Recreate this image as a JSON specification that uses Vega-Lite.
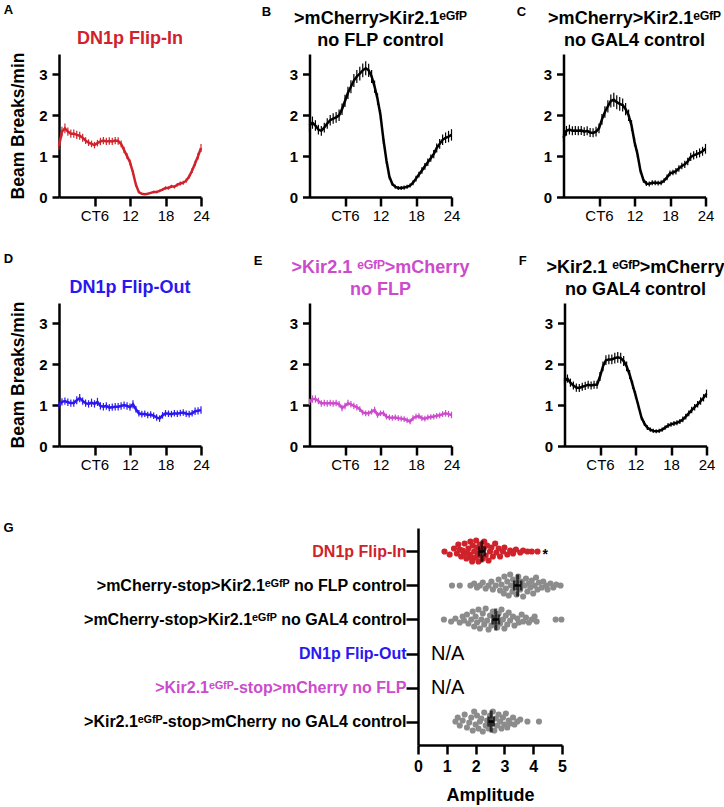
{
 "$schema": "https://vega.github.io/schema/vega-lite/v6.json",
 "background": "white",
 "padding": {"left": 2, "top": 4, "right": 2, "bottom": 2},
 "config": {
  "font": "Liberation Sans",
  "view": {"stroke": null},
  "axis": {"domainColor": "black", "tickColor": "black", "labelColor": "black", "titleColor": "black", "domainWidth": 2.5, "tickWidth": 2.5, "grid": false, "labelFlush": false, "labelOverlap": false, "labelFont": "Liberation Sans", "titleFont": "Liberation Sans"},
  "title": {"font": "Liberation Sans", "fontSize": 18, "fontWeight": "bold", "lineHeight": 22, "offset": 4, "color": "black"}
 },
 "datasets": {
  "A": [
   {"t":0,"m":1.25,"s":0.1},{"t":0.5,"m":1.6,"s":0.12},{"t":1,"m":1.68,"s":0.12},{"t":1.5,"m":1.6,"s":0.1},{"t":2,"m":1.55,"s":0.1},{"t":2.5,"m":1.55,"s":0.1},{"t":3,"m":1.52,"s":0.1},{"t":3.5,"m":1.5,"s":0.1},{"t":4,"m":1.45,"s":0.1},{"t":4.5,"m":1.38,"s":0.08},{"t":5,"m":1.33,"s":0.08},{"t":5.5,"m":1.3,"s":0.08},{"t":6,"m":1.27,"s":0.08},{"t":6.5,"m":1.32,"s":0.08},{"t":7,"m":1.36,"s":0.09},{"t":7.5,"m":1.38,"s":0.09},{"t":8,"m":1.36,"s":0.09},{"t":8.5,"m":1.37,"s":0.09},{"t":9,"m":1.36,"s":0.09},{"t":9.5,"m":1.38,"s":0.09},{"t":10,"m":1.37,"s":0.09},{"t":10.5,"m":1.3,"s":0.08},{"t":11,"m":1.15,"s":0.08},{"t":11.5,"m":1.0,"s":0.07},{"t":12,"m":0.85,"s":0.07},{"t":12.5,"m":0.6,"s":0.06},{"t":13,"m":0.3,"s":0.05},{"t":13.5,"m":0.12,"s":0.03},{"t":14,"m":0.08,"s":0.02},{"t":14.5,"m":0.07,"s":0.02},{"t":15,"m":0.08,"s":0.02},{"t":15.5,"m":0.1,"s":0.02},{"t":16,"m":0.12,"s":0.03},{"t":16.5,"m":0.12,"s":0.03},{"t":17,"m":0.15,"s":0.03},{"t":17.5,"m":0.18,"s":0.03},{"t":18,"m":0.22,"s":0.04},{"t":18.5,"m":0.22,"s":0.04},{"t":19,"m":0.26,"s":0.04},{"t":19.5,"m":0.25,"s":0.04},{"t":20,"m":0.3,"s":0.04},{"t":20.5,"m":0.33,"s":0.05},{"t":21,"m":0.35,"s":0.05},{"t":21.5,"m":0.4,"s":0.05},{"t":22,"m":0.5,"s":0.05},{"t":22.5,"m":0.65,"s":0.06},{"t":23,"m":0.82,"s":0.07},{"t":23.5,"m":1.0,"s":0.08},{"t":24,"m":1.2,"s":0.1}
  ],
  "B": [
   {"t":0,"m":1.75,"s":0.15},{"t":0.5,"m":1.82,"s":0.15},{"t":1,"m":1.75,"s":0.13},{"t":1.5,"m":1.65,"s":0.12},{"t":2,"m":1.62,"s":0.12},{"t":2.5,"m":1.7,"s":0.12},{"t":3,"m":1.8,"s":0.13},{"t":3.5,"m":1.88,"s":0.13},{"t":4,"m":1.92,"s":0.13},{"t":4.5,"m":1.95,"s":0.13},{"t":5,"m":2.0,"s":0.14},{"t":5.5,"m":2.15,"s":0.14},{"t":6,"m":2.35,"s":0.15},{"t":6.5,"m":2.55,"s":0.15},{"t":7,"m":2.7,"s":0.16},{"t":7.5,"m":2.85,"s":0.16},{"t":8,"m":2.95,"s":0.16},{"t":8.5,"m":3.02,"s":0.17},{"t":9,"m":3.1,"s":0.17},{"t":9.5,"m":3.15,"s":0.17},{"t":10,"m":3.1,"s":0.16},{"t":10.5,"m":2.95,"s":0.16},{"t":11,"m":2.7,"s":0.15},{"t":11.5,"m":2.4,"s":0.14},{"t":12,"m":2.0,"s":0.13},{"t":12.5,"m":1.4,"s":0.11},{"t":13,"m":0.9,"s":0.09},{"t":13.5,"m":0.5,"s":0.07},{"t":14,"m":0.32,"s":0.05},{"t":14.5,"m":0.25,"s":0.05},{"t":15,"m":0.22,"s":0.05},{"t":15.5,"m":0.22,"s":0.05},{"t":16,"m":0.23,"s":0.05},{"t":16.5,"m":0.25,"s":0.05},{"t":17,"m":0.28,"s":0.05},{"t":17.5,"m":0.35,"s":0.06},{"t":18,"m":0.45,"s":0.07},{"t":18.5,"m":0.55,"s":0.07},{"t":19,"m":0.65,"s":0.08},{"t":19.5,"m":0.75,"s":0.08},{"t":20,"m":0.85,"s":0.09},{"t":20.5,"m":0.95,"s":0.09},{"t":21,"m":1.05,"s":0.1},{"t":21.5,"m":1.2,"s":0.11},{"t":22,"m":1.3,"s":0.12},{"t":22.5,"m":1.4,"s":0.13},{"t":23,"m":1.45,"s":0.13},{"t":23.5,"m":1.48,"s":0.14},{"t":24,"m":1.52,"s":0.14}
  ],
  "C": [
   {"t":0,"m":1.45,"s":0.1},{"t":0.5,"m":1.62,"s":0.12},{"t":1,"m":1.65,"s":0.12},{"t":1.5,"m":1.62,"s":0.11},{"t":2,"m":1.63,"s":0.11},{"t":2.5,"m":1.62,"s":0.11},{"t":3,"m":1.63,"s":0.11},{"t":3.5,"m":1.6,"s":0.11},{"t":4,"m":1.62,"s":0.11},{"t":4.5,"m":1.58,"s":0.11},{"t":5,"m":1.57,"s":0.11},{"t":5.5,"m":1.6,"s":0.12},{"t":6,"m":1.68,"s":0.12},{"t":6.5,"m":1.9,"s":0.13},{"t":7,"m":2.08,"s":0.14},{"t":7.5,"m":2.22,"s":0.15},{"t":8,"m":2.35,"s":0.16},{"t":8.5,"m":2.38,"s":0.17},{"t":9,"m":2.32,"s":0.17},{"t":9.5,"m":2.28,"s":0.17},{"t":10,"m":2.25,"s":0.16},{"t":10.5,"m":2.15,"s":0.15},{"t":11,"m":2.0,"s":0.14},{"t":11.5,"m":1.75,"s":0.13},{"t":12,"m":1.35,"s":0.11},{"t":12.5,"m":1.05,"s":0.1},{"t":13,"m":0.65,"s":0.08},{"t":13.5,"m":0.42,"s":0.07},{"t":14,"m":0.33,"s":0.06},{"t":14.5,"m":0.32,"s":0.06},{"t":15,"m":0.35,"s":0.06},{"t":15.5,"m":0.35,"s":0.06},{"t":16,"m":0.34,"s":0.06},{"t":16.5,"m":0.35,"s":0.06},{"t":17,"m":0.4,"s":0.06},{"t":17.5,"m":0.48,"s":0.07},{"t":18,"m":0.58,"s":0.07},{"t":18.5,"m":0.6,"s":0.07},{"t":19,"m":0.63,"s":0.08},{"t":19.5,"m":0.7,"s":0.08},{"t":20,"m":0.76,"s":0.08},{"t":20.5,"m":0.8,"s":0.09},{"t":21,"m":0.87,"s":0.09},{"t":21.5,"m":0.98,"s":0.1},{"t":22,"m":1.02,"s":0.1},{"t":22.5,"m":1.05,"s":0.1},{"t":23,"m":1.08,"s":0.11},{"t":23.5,"m":1.12,"s":0.11},{"t":24,"m":1.18,"s":0.12}
  ],
  "D": [
   {"t":0,"m":1.0,"s":0.09},{"t":0.5,"m":1.08,"s":0.09},{"t":1,"m":1.1,"s":0.09},{"t":1.5,"m":1.07,"s":0.09},{"t":2,"m":1.05,"s":0.09},{"t":2.5,"m":1.05,"s":0.09},{"t":3,"m":1.12,"s":0.1},{"t":3.5,"m":1.17,"s":0.1},{"t":4,"m":1.1,"s":0.09},{"t":4.5,"m":1.05,"s":0.09},{"t":5,"m":1.03,"s":0.09},{"t":5.5,"m":1.06,"s":0.1},{"t":6,"m":1.03,"s":0.09},{"t":6.5,"m":1.08,"s":0.1},{"t":7,"m":0.98,"s":0.09},{"t":7.5,"m":0.96,"s":0.09},{"t":8,"m":0.98,"s":0.09},{"t":8.5,"m":0.94,"s":0.09},{"t":9,"m":0.95,"s":0.09},{"t":9.5,"m":0.96,"s":0.09},{"t":10,"m":0.96,"s":0.09},{"t":10.5,"m":0.98,"s":0.09},{"t":11,"m":1.0,"s":0.09},{"t":11.5,"m":0.98,"s":0.09},{"t":12,"m":0.95,"s":0.09},{"t":12.5,"m":1.02,"s":0.1},{"t":13,"m":0.9,"s":0.08},{"t":13.5,"m":0.8,"s":0.08},{"t":14,"m":0.78,"s":0.08},{"t":14.5,"m":0.79,"s":0.08},{"t":15,"m":0.76,"s":0.08},{"t":15.5,"m":0.77,"s":0.08},{"t":16,"m":0.74,"s":0.08},{"t":16.5,"m":0.7,"s":0.08},{"t":17,"m":0.67,"s":0.08},{"t":17.5,"m":0.75,"s":0.08},{"t":18,"m":0.8,"s":0.08},{"t":18.5,"m":0.79,"s":0.08},{"t":19,"m":0.78,"s":0.08},{"t":19.5,"m":0.8,"s":0.08},{"t":20,"m":0.79,"s":0.08},{"t":20.5,"m":0.81,"s":0.08},{"t":21,"m":0.82,"s":0.08},{"t":21.5,"m":0.79,"s":0.08},{"t":22,"m":0.78,"s":0.08},{"t":22.5,"m":0.8,"s":0.08},{"t":23,"m":0.85,"s":0.09},{"t":23.5,"m":0.86,"s":0.09},{"t":24,"m":0.88,"s":0.09}
  ],
  "E": [
   {"t":0,"m":1.08,"s":0.08},{"t":0.5,"m":1.15,"s":0.09},{"t":1,"m":1.15,"s":0.09},{"t":1.5,"m":1.1,"s":0.08},{"t":2,"m":1.04,"s":0.08},{"t":2.5,"m":1.05,"s":0.08},{"t":3,"m":1.04,"s":0.08},{"t":3.5,"m":1.05,"s":0.08},{"t":4,"m":1.04,"s":0.08},{"t":4.5,"m":1.05,"s":0.08},{"t":5,"m":1.02,"s":0.08},{"t":5.5,"m":0.93,"s":0.08},{"t":6,"m":0.98,"s":0.08},{"t":6.5,"m":1.05,"s":0.08},{"t":7,"m":1.02,"s":0.08},{"t":7.5,"m":0.98,"s":0.08},{"t":8,"m":0.95,"s":0.08},{"t":8.5,"m":0.9,"s":0.07},{"t":9,"m":0.82,"s":0.07},{"t":9.5,"m":0.8,"s":0.07},{"t":10,"m":0.8,"s":0.07},{"t":10.5,"m":0.84,"s":0.07},{"t":11,"m":0.88,"s":0.08},{"t":11.5,"m":0.76,"s":0.07},{"t":12,"m":0.8,"s":0.07},{"t":12.5,"m":0.8,"s":0.07},{"t":13,"m":0.72,"s":0.07},{"t":13.5,"m":0.7,"s":0.07},{"t":14,"m":0.69,"s":0.07},{"t":14.5,"m":0.7,"s":0.07},{"t":15,"m":0.68,"s":0.07},{"t":15.5,"m":0.67,"s":0.07},{"t":16,"m":0.66,"s":0.07},{"t":16.5,"m":0.63,"s":0.07},{"t":17,"m":0.6,"s":0.07},{"t":17.5,"m":0.68,"s":0.07},{"t":18,"m":0.72,"s":0.07},{"t":18.5,"m":0.73,"s":0.07},{"t":19,"m":0.68,"s":0.07},{"t":19.5,"m":0.67,"s":0.07},{"t":20,"m":0.7,"s":0.07},{"t":20.5,"m":0.71,"s":0.07},{"t":21,"m":0.72,"s":0.07},{"t":21.5,"m":0.74,"s":0.07},{"t":22,"m":0.75,"s":0.07},{"t":22.5,"m":0.78,"s":0.07},{"t":23,"m":0.8,"s":0.08},{"t":23.5,"m":0.78,"s":0.08},{"t":24,"m":0.76,"s":0.08}
  ],
  "F": [
   {"t":0,"m":1.58,"s":0.1},{"t":0.5,"m":1.65,"s":0.1},{"t":1,"m":1.55,"s":0.1},{"t":1.5,"m":1.48,"s":0.1},{"t":2,"m":1.43,"s":0.1},{"t":2.5,"m":1.42,"s":0.1},{"t":3,"m":1.45,"s":0.1},{"t":3.5,"m":1.47,"s":0.1},{"t":4,"m":1.5,"s":0.1},{"t":4.5,"m":1.48,"s":0.1},{"t":5,"m":1.5,"s":0.1},{"t":5.5,"m":1.5,"s":0.1},{"t":6,"m":1.7,"s":0.11},{"t":6.5,"m":1.95,"s":0.12},{"t":7,"m":2.1,"s":0.12},{"t":7.5,"m":2.12,"s":0.12},{"t":8,"m":2.12,"s":0.12},{"t":8.5,"m":2.15,"s":0.13},{"t":9,"m":2.17,"s":0.13},{"t":9.5,"m":2.15,"s":0.13},{"t":10,"m":2.08,"s":0.12},{"t":10.5,"m":1.95,"s":0.12},{"t":11,"m":1.75,"s":0.11},{"t":11.5,"m":1.5,"s":0.1},{"t":12,"m":1.25,"s":0.09},{"t":12.5,"m":0.98,"s":0.08},{"t":13,"m":0.7,"s":0.07},{"t":13.5,"m":0.55,"s":0.06},{"t":14,"m":0.45,"s":0.06},{"t":14.5,"m":0.4,"s":0.05},{"t":15,"m":0.37,"s":0.05},{"t":15.5,"m":0.36,"s":0.05},{"t":16,"m":0.37,"s":0.05},{"t":16.5,"m":0.4,"s":0.05},{"t":17,"m":0.45,"s":0.05},{"t":17.5,"m":0.5,"s":0.06},{"t":18,"m":0.53,"s":0.06},{"t":18.5,"m":0.55,"s":0.06},{"t":19,"m":0.57,"s":0.06},{"t":19.5,"m":0.6,"s":0.06},{"t":20,"m":0.65,"s":0.07},{"t":20.5,"m":0.72,"s":0.07},{"t":21,"m":0.8,"s":0.07},{"t":21.5,"m":0.88,"s":0.08},{"t":22,"m":0.95,"s":0.08},{"t":22.5,"m":1.02,"s":0.08},{"t":23,"m":1.1,"s":0.09},{"t":23.5,"m":1.18,"s":0.09},{"t":24,"m":1.28,"s":0.1}
  ],
  "groups": [
   {"k":1,"g":"DN1p Flip-In"},
   {"k":2,"g":">mCherry-stop>Kir2.1ᵉᴳᶠᴾ no FLP control"},
   {"k":3,"g":">mCherry-stop>Kir2.1ᵉᴳᶠᴾ no GAL4 control"},
   {"k":4,"g":"DN1p Flip-Out"},
   {"k":5,"g":">Kir2.1ᵉᴳᶠᴾ-stop>mCherry no FLP"},
   {"k":6,"g":">Kir2.1ᵉᴳᶠᴾ-stop>mCherry no GAL4 control"}
  ],
  "dots": [
   {"k":1,"a":0.92,"o":0},{"k":1,"a":1.1,"o":3},{"k":1,"a":1.25,"o":-3},{"k":1,"a":1.35,"o":2},{"k":1,"a":1.4,"o":-7},{"k":1,"a":1.45,"o":-2},{"k":1,"a":1.5,"o":5},{"k":1,"a":1.55,"o":-1},{"k":1,"a":1.6,"o":2},{"k":1,"a":1.62,"o":-8},{"k":1,"a":1.68,"o":7},{"k":1,"a":1.7,"o":1},{"k":1,"a":1.75,"o":-3},{"k":1,"a":1.8,"o":3},{"k":1,"a":1.82,"o":-10},{"k":1,"a":1.85,"o":6},{"k":1,"a":1.88,"o":10},{"k":1,"a":1.9,"o":-6},{"k":1,"a":1.95,"o":0},{"k":1,"a":2.0,"o":6},{"k":1,"a":2.02,"o":-11},{"k":1,"a":2.05,"o":-4},{"k":1,"a":2.08,"o":2},{"k":1,"a":2.1,"o":10},{"k":1,"a":2.12,"o":4},{"k":1,"a":2.15,"o":-7},{"k":1,"a":2.18,"o":-1},{"k":1,"a":2.25,"o":7},{"k":1,"a":2.28,"o":-3},{"k":1,"a":2.3,"o":-10},{"k":1,"a":2.35,"o":4},{"k":1,"a":2.4,"o":-6},{"k":1,"a":2.45,"o":9},{"k":1,"a":2.5,"o":0},{"k":1,"a":2.55,"o":-4},{"k":1,"a":2.6,"o":5},{"k":1,"a":2.68,"o":-8},{"k":1,"a":2.72,"o":1},{"k":1,"a":2.8,"o":-3},{"k":1,"a":2.85,"o":5},{"k":1,"a":2.95,"o":0},{"k":1,"a":3.0,"o":-4},{"k":1,"a":3.1,"o":3},{"k":1,"a":3.2,"o":-1},{"k":1,"a":3.3,"o":2},{"k":1,"a":3.4,"o":-2},{"k":1,"a":3.55,"o":1},{"k":1,"a":3.65,"o":-1},{"k":1,"a":3.8,"o":0},{"k":1,"a":3.95,"o":0},{"k":1,"a":4.15,"o":0},
   {"k":2,"a":1.18,"o":0},{"k":2,"a":1.45,"o":0},{"k":2,"a":1.82,"o":0},{"k":2,"a":1.95,"o":-2},{"k":2,"a":2.05,"o":2},{"k":2,"a":2.15,"o":0},{"k":2,"a":2.25,"o":-3},{"k":2,"a":2.35,"o":3},{"k":2,"a":2.45,"o":0},{"k":2,"a":2.55,"o":-4},{"k":2,"a":2.6,"o":4},{"k":2,"a":2.7,"o":0},{"k":2,"a":2.8,"o":-6},{"k":2,"a":2.85,"o":5},{"k":2,"a":2.9,"o":-1},{"k":2,"a":2.98,"o":8},{"k":2,"a":3.0,"o":-9},{"k":2,"a":3.05,"o":3},{"k":2,"a":3.1,"o":-4},{"k":2,"a":3.15,"o":10},{"k":2,"a":3.2,"o":-11},{"k":2,"a":3.22,"o":0},{"k":2,"a":3.28,"o":6},{"k":2,"a":3.3,"o":-6},{"k":2,"a":3.35,"o":2},{"k":2,"a":3.4,"o":-3},{"k":2,"a":3.42,"o":9},{"k":2,"a":3.48,"o":-9},{"k":2,"a":3.55,"o":4},{"k":2,"a":3.6,"o":-4},{"k":2,"a":3.65,"o":11},{"k":2,"a":3.7,"o":0},{"k":2,"a":3.75,"o":-7},{"k":2,"a":3.8,"o":6},{"k":2,"a":3.85,"o":-2},{"k":2,"a":3.9,"o":2},{"k":2,"a":3.95,"o":-5},{"k":2,"a":4.0,"o":8},{"k":2,"a":4.05,"o":0},{"k":2,"a":4.1,"o":-8},{"k":2,"a":4.15,"o":4},{"k":2,"a":4.2,"o":-3},{"k":2,"a":4.3,"o":2},{"k":2,"a":4.35,"o":-4},{"k":2,"a":4.45,"o":0},{"k":2,"a":4.5,"o":4},{"k":2,"a":4.6,"o":-2},{"k":2,"a":4.7,"o":2},{"k":2,"a":4.8,"o":-1},{"k":2,"a":4.95,"o":0},
   {"k":3,"a":0.9,"o":0},{"k":3,"a":1.15,"o":2},{"k":3,"a":1.3,"o":-1},{"k":3,"a":1.45,"o":3},{"k":3,"a":1.55,"o":-3},{"k":3,"a":1.6,"o":1},{"k":3,"a":1.7,"o":-5},{"k":3,"a":1.75,"o":4},{"k":3,"a":1.85,"o":0},{"k":3,"a":1.9,"o":-8},{"k":3,"a":1.95,"o":7},{"k":3,"a":2.0,"o":-3},{"k":3,"a":2.05,"o":3},{"k":3,"a":2.1,"o":-10},{"k":3,"a":2.15,"o":9},{"k":3,"a":2.2,"o":0},{"k":3,"a":2.25,"o":-6},{"k":3,"a":2.3,"o":5},{"k":3,"a":2.35,"o":-11},{"k":3,"a":2.4,"o":1},{"k":3,"a":2.45,"o":10},{"k":3,"a":2.5,"o":-4},{"k":3,"a":2.55,"o":6},{"k":3,"a":2.6,"o":-8},{"k":3,"a":2.65,"o":2},{"k":3,"a":2.7,"o":-2},{"k":3,"a":2.75,"o":8},{"k":3,"a":2.8,"o":-6},{"k":3,"a":2.85,"o":4},{"k":3,"a":2.9,"o":-10},{"k":3,"a":2.95,"o":0},{"k":3,"a":3.0,"o":9},{"k":3,"a":3.05,"o":-4},{"k":3,"a":3.1,"o":5},{"k":3,"a":3.15,"o":-7},{"k":3,"a":3.2,"o":1},{"k":3,"a":3.3,"o":-3},{"k":3,"a":3.35,"o":6},{"k":3,"a":3.45,"o":-1},{"k":3,"a":3.5,"o":3},{"k":3,"a":3.6,"o":-5},{"k":3,"a":3.65,"o":2},{"k":3,"a":3.75,"o":-2},{"k":3,"a":3.85,"o":3},{"k":3,"a":3.95,"o":0},{"k":3,"a":4.05,"o":-3},{"k":3,"a":4.12,"o":2},{"k":3,"a":4.78,"o":0},{"k":3,"a":4.98,"o":0},
   {"k":6,"a":1.3,"o":0},{"k":6,"a":1.38,"o":-4},{"k":6,"a":1.45,"o":4},{"k":6,"a":1.55,"o":-1},{"k":6,"a":1.62,"o":-7},{"k":6,"a":1.7,"o":6},{"k":6,"a":1.78,"o":1},{"k":6,"a":1.85,"o":-4},{"k":6,"a":1.9,"o":9},{"k":6,"a":1.95,"o":-10},{"k":6,"a":2.0,"o":3},{"k":6,"a":2.05,"o":-6},{"k":6,"a":2.1,"o":7},{"k":6,"a":2.15,"o":0},{"k":6,"a":2.2,"o":-3},{"k":6,"a":2.25,"o":10},{"k":6,"a":2.3,"o":-9},{"k":6,"a":2.35,"o":4},{"k":6,"a":2.4,"o":-1},{"k":6,"a":2.45,"o":7},{"k":6,"a":2.5,"o":-6},{"k":6,"a":2.55,"o":2},{"k":6,"a":2.6,"o":-10},{"k":6,"a":2.65,"o":9},{"k":6,"a":2.7,"o":-3},{"k":6,"a":2.75,"o":4},{"k":6,"a":2.8,"o":-7},{"k":6,"a":2.85,"o":0},{"k":6,"a":2.9,"o":7},{"k":6,"a":2.95,"o":-4},{"k":6,"a":3.0,"o":3},{"k":6,"a":3.05,"o":-8},{"k":6,"a":3.1,"o":6},{"k":6,"a":3.15,"o":-1},{"k":6,"a":3.2,"o":2},{"k":6,"a":3.3,"o":-4},{"k":6,"a":3.35,"o":3},{"k":6,"a":3.45,"o":0},{"k":6,"a":3.55,"o":-2},{"k":6,"a":3.8,"o":0},{"k":6,"a":4.2,"o":0}
  ],
  "means": [
   {"g":"DN1p Flip-In","mean":2.22,"sem":0.1},
   {"g":">mCherry-stop>Kir2.1ᵉᴳᶠᴾ no FLP control","mean":3.46,"sem":0.12},
   {"g":">mCherry-stop>Kir2.1ᵉᴳᶠᴾ no GAL4 control","mean":2.7,"sem":0.11},
   {"g":">Kir2.1ᵉᴳᶠᴾ-stop>mCherry no GAL4 control","mean":2.54,"sem":0.09}
  ],
  "star": [{"g":"DN1p Flip-In","a":4.42,"t":"*"}],
  "na": [
   {"g":"DN1p Flip-Out","a":0.45,"t":"N/A"},
   {"g":">Kir2.1ᵉᴳᶠᴾ-stop>mCherry no FLP","a":0.45,"t":"N/A"}
  ],
  "empty": []
 },
 "spacing": 50,
 "vconcat": [
  {"spacing": 30, "vconcat": [
   {"spacing": 0, "hconcat": [
    {"width": 1, "height": 1, "data": {"name": "empty"}, "mark": "point"},
    {"spacing": 49.5, "hconcat": [
     {"spacing": 51.5, "hconcat": [
      {"title": {"text": "A", "anchor": "start", "frame": "bounds", "fontSize": 13, "offset": -9, "dx": -6}, "vconcat": [
       {"width": 142, "height": 143, "title": {"text": [" ", "DN1p Flip-In"], "color": "#d0222b"}, "data": {"name": "A"},
        "encoding": {"x": {"field": "t", "type": "quantitative", "scale": {"domain": [0, 24], "nice": false, "zero": false}, "axis": {"values": [6, 12, 18, 24], "labelExpr": "datum.value == 6 ? 'CT6' : datum.label", "title": null, "tickSize": 9, "labelFontSize": 15, "labelPadding": 2}}},
        "layer": [
         {"mark": {"type": "errorbar", "color": "#d0222b", "thickness": 1.2}, "encoding": {"y": {"field": "m", "type": "quantitative", "scale": {"domain": [0, 3.5], "nice": false}, "axis": {"values": [0, 1, 2, 3], "title": "Beam Breaks/min", "titleFontSize": 17.5, "titleFontWeight": "bold", "titlePadding": 11, "labelFontSize": 15, "labelFontWeight": "bold", "tickSize": 7, "labelPadding": 5}}, "yError": {"field": "s"}}},
         {"mark": {"type": "line", "color": "#d0222b", "strokeWidth": 2.5}, "encoding": {"y": {"field": "m", "type": "quantitative"}}}
        ]}
      ]},
      {"title": {"text": "B", "anchor": "start", "frame": "bounds", "fontSize": 13, "offset": -9, "dx": -27.5}, "vconcat": [
       {"width": 142, "height": 143, "title": {"text": [">mCherry>Kir2.1ᵉᴳᶠᴾ", "no FLP control"], "color": "black"}, "data": {"name": "B"},
        "encoding": {"x": {"field": "t", "type": "quantitative", "scale": {"domain": [0, 24], "nice": false, "zero": false}, "axis": {"values": [6, 12, 18, 24], "labelExpr": "datum.value == 6 ? 'CT6' : datum.label", "title": null, "tickSize": 9, "labelFontSize": 15, "labelPadding": 2}}},
        "layer": [
         {"mark": {"type": "errorbar", "color": "black", "thickness": 1.2}, "encoding": {"y": {"field": "m", "type": "quantitative", "scale": {"domain": [0, 3.5], "nice": false}, "axis": {"values": [0, 1, 2, 3], "title": null, "labelFontSize": 15, "labelFontWeight": "bold", "tickSize": 7, "labelPadding": 5}}, "yError": {"field": "s"}}},
         {"mark": {"type": "line", "color": "black", "strokeWidth": 2.5}, "encoding": {"y": {"field": "m", "type": "quantitative"}}}
        ]}
      ]}
     ]},
     {"title": {"text": "C", "anchor": "start", "frame": "bounds", "fontSize": 13, "offset": -9, "dx": -26.5}, "vconcat": [
      {"width": 142, "height": 143, "title": {"text": [">mCherry>Kir2.1ᵉᴳᶠᴾ", "no GAL4 control"], "color": "black"}, "data": {"name": "C"},
       "encoding": {"x": {"field": "t", "type": "quantitative", "scale": {"domain": [0, 24], "nice": false, "zero": false}, "axis": {"values": [6, 12, 18, 24], "labelExpr": "datum.value == 6 ? 'CT6' : datum.label", "title": null, "tickSize": 9, "labelFontSize": 15, "labelPadding": 2}}},
       "layer": [
        {"mark": {"type": "errorbar", "color": "black", "thickness": 1.2}, "encoding": {"y": {"field": "m", "type": "quantitative", "scale": {"domain": [0, 3.5], "nice": false}, "axis": {"values": [0, 1, 2, 3], "title": null, "labelFontSize": 15, "labelFontWeight": "bold", "tickSize": 7, "labelPadding": 5}}, "yError": {"field": "s"}}},
        {"mark": {"type": "line", "color": "black", "strokeWidth": 2.5}, "encoding": {"y": {"field": "m", "type": "quantitative"}}}
       ]}
     ]}
    ]}
   ]},
   {"spacing": 0, "hconcat": [
    {"width": 1, "height": 1, "data": {"name": "empty"}, "mark": "point"},
    {"spacing": 48.5, "hconcat": [
     {"spacing": 43.5, "hconcat": [
      {"title": {"text": "D", "anchor": "start", "frame": "bounds", "fontSize": 13, "offset": -9, "dx": -6}, "vconcat": [
       {"width": 142, "height": 143, "title": {"text": [" ", "DN1p Flip-Out"], "color": "#2b17f0"}, "data": {"name": "D"},
        "encoding": {"x": {"field": "t", "type": "quantitative", "scale": {"domain": [0, 24], "nice": false, "zero": false}, "axis": {"values": [6, 12, 18, 24], "labelExpr": "datum.value == 6 ? 'CT6' : datum.label", "title": null, "tickSize": 9, "labelFontSize": 15, "labelPadding": 2}}},
        "layer": [
         {"mark": {"type": "errorbar", "color": "#2b17f0", "thickness": 1.2}, "encoding": {"y": {"field": "m", "type": "quantitative", "scale": {"domain": [0, 3.5], "nice": false}, "axis": {"values": [0, 1, 2, 3], "title": "Beam Breaks/min", "titleFontSize": 17.5, "titleFontWeight": "bold", "titlePadding": 11, "labelFontSize": 15, "labelFontWeight": "bold", "tickSize": 7, "labelPadding": 5}}, "yError": {"field": "s"}}},
         {"mark": {"type": "line", "color": "#2b17f0", "strokeWidth": 2.5}, "encoding": {"y": {"field": "m", "type": "quantitative"}}}
        ]}
      ]},
      {"title": {"text": "E", "anchor": "start", "frame": "bounds", "fontSize": 13, "offset": -9, "dx": -35.5}, "vconcat": [
       {"width": 142, "height": 143, "title": {"text": [">Kir2.1 ᵉᴳᶠᴾ>mCherry", "no FLP"], "color": "#cc4bcc"}, "data": {"name": "E"},
        "encoding": {"x": {"field": "t", "type": "quantitative", "scale": {"domain": [0, 24], "nice": false, "zero": false}, "axis": {"values": [6, 12, 18, 24], "labelExpr": "datum.value == 6 ? 'CT6' : datum.label", "title": null, "tickSize": 9, "labelFontSize": 15, "labelPadding": 2}}},
        "layer": [
         {"mark": {"type": "errorbar", "color": "#cc4bcc", "thickness": 1.2}, "encoding": {"y": {"field": "m", "type": "quantitative", "scale": {"domain": [0, 3.5], "nice": false}, "axis": {"values": [0, 1, 2, 3], "title": null, "labelFontSize": 15, "labelFontWeight": "bold", "tickSize": 7, "labelPadding": 5}}, "yError": {"field": "s"}}},
         {"mark": {"type": "line", "color": "#cc4bcc", "strokeWidth": 2.5}, "encoding": {"y": {"field": "m", "type": "quantitative"}}}
        ]}
      ]}
     ]},
     {"title": {"text": "F", "anchor": "start", "frame": "bounds", "fontSize": 13, "offset": -9, "dx": -25.5}, "vconcat": [
      {"width": 142, "height": 143, "title": {"text": [">Kir2.1 ᵉᴳᶠᴾ>mCherry", "no GAL4 control"], "color": "black"}, "data": {"name": "F"},
       "encoding": {"x": {"field": "t", "type": "quantitative", "scale": {"domain": [0, 24], "nice": false, "zero": false}, "axis": {"values": [6, 12, 18, 24], "labelExpr": "datum.value == 6 ? 'CT6' : datum.label", "title": null, "tickSize": 9, "labelFontSize": 15, "labelPadding": 2}}},
       "layer": [
        {"mark": {"type": "errorbar", "color": "black", "thickness": 1.2}, "encoding": {"y": {"field": "m", "type": "quantitative", "scale": {"domain": [0, 3.5], "nice": false}, "axis": {"values": [0, 1, 2, 3], "title": null, "labelFontSize": 15, "labelFontWeight": "bold", "tickSize": 7, "labelPadding": 5}}, "yError": {"field": "s"}}},
        {"mark": {"type": "line", "color": "black", "strokeWidth": 2.5}, "encoding": {"y": {"field": "m", "type": "quantitative"}}}
       ]}
     ]}
    ]}
   ]}
  ]},
  {"spacing": 0, "hconcat": [
   {"width": 1, "height": 1, "data": {"name": "empty"}, "mark": "point"},
   {"title": {"text": "G", "anchor": "start", "frame": "bounds", "fontSize": 13, "offset": -7, "dx": -80}, "vconcat": [
   {"width": 144, "height": 217,
    "layer": [
     {"data": {"name": "dots"},
      "transform": [{"lookup": "k", "from": {"data": {"name": "groups"}, "key": "k", "fields": ["g"]}}],
      "mark": {"type": "circle", "size": 38, "opacity": 1},
      "encoding": {
       "x": {"field": "a", "type": "quantitative", "title": "Amplitude", "scale": {"domain": [0, 5], "nice": false}, "axis": {"values": [0, 1, 2, 3, 4, 5], "title": "Amplitude", "titleFontSize": 18, "titleFontWeight": "bold", "titlePadding": 12, "labelFontSize": 16, "labelFontWeight": "bold", "tickSize": 9, "labelPadding": 4}},
       "y": {"field": "g", "type": "nominal", "scale": {"type": "point", "padding": 0.69, "domain": ["DN1p Flip-In", ">mCherry-stop>Kir2.1ᵉᴳᶠᴾ no FLP control", ">mCherry-stop>Kir2.1ᵉᴳᶠᴾ no GAL4 control", "DN1p Flip-Out", ">Kir2.1ᵉᴳᶠᴾ-stop>mCherry no FLP", ">Kir2.1ᵉᴳᶠᴾ-stop>mCherry no GAL4 control"]},
        "axis": {"title": null, "labelFontSize": 16, "labelFontWeight": "bold", "tickSize": 12, "labelPadding": 0, "labelLimit": 400,
         "labelColor": {"expr": "indexof(datum.value, 'Flip-In') >= 0 ? '#d0222b' : indexof(datum.value, 'Flip-Out') >= 0 ? '#2b17f0' : indexof(datum.value, 'mCherry no FLP') >= 0 ? '#cc4bcc' : 'black'"}}},
       "yOffset": {"field": "o", "type": "quantitative", "scale": {"domain": [-15, 15], "range": [-15, 15]}},
       "color": {"condition": {"test": "datum.k == 1", "value": "#d0222b"}, "value": "#8c8c8c"}
      }},
     {"data": {"name": "means"},
      "mark": {"type": "errorbar", "color": "black", "thickness": 2.5, "ticks": {"size": 10, "color": "black"}},
      "encoding": {"x": {"field": "mean", "type": "quantitative", "title": "Amplitude", "axis": {"values": [0, 1, 2, 3, 4, 5], "title": "Amplitude", "titleFontSize": 18, "titleFontWeight": "bold", "titlePadding": 12, "labelFontSize": 16, "labelFontWeight": "bold", "tickSize": 9, "labelPadding": 4}}, "xError": {"field": "sem"}, "y": {"field": "g", "type": "nominal"}}},
     {"data": {"name": "means"},
      "mark": {"type": "tick", "color": "black", "size": 22, "thickness": 3},
      "encoding": {"x": {"field": "mean", "type": "quantitative", "title": "Amplitude", "axis": {"values": [0, 1, 2, 3, 4, 5], "title": "Amplitude", "titleFontSize": 18, "titleFontWeight": "bold", "titlePadding": 12, "labelFontSize": 16, "labelFontWeight": "bold", "tickSize": 9, "labelPadding": 4}}, "y": {"field": "g", "type": "nominal"}}},
     {"data": {"name": "star"},
      "mark": {"type": "text", "fontSize": 14, "fontWeight": "bold", "baseline": "middle", "dy": 4, "color": "black"},
      "encoding": {"x": {"field": "a", "type": "quantitative", "title": "Amplitude", "axis": {"values": [0, 1, 2, 3, 4, 5], "title": "Amplitude", "titleFontSize": 18, "titleFontWeight": "bold", "titlePadding": 12, "labelFontSize": 16, "labelFontWeight": "bold", "tickSize": 9, "labelPadding": 4}}, "y": {"field": "g", "type": "nominal"}, "text": {"field": "t"}}},
     {"data": {"name": "na"},
      "mark": {"type": "text", "fontSize": 20, "align": "left", "baseline": "middle", "color": "black"},
      "encoding": {"x": {"field": "a", "type": "quantitative", "title": "Amplitude", "axis": {"values": [0, 1, 2, 3, 4, 5], "title": "Amplitude", "titleFontSize": 18, "titleFontWeight": "bold", "titlePadding": 12, "labelFontSize": 16, "labelFontWeight": "bold", "tickSize": 9, "labelPadding": 4}}, "y": {"field": "g", "type": "nominal"}, "text": {"field": "t"}}}
    ]}
   ]}
  ]}
 ]
}
